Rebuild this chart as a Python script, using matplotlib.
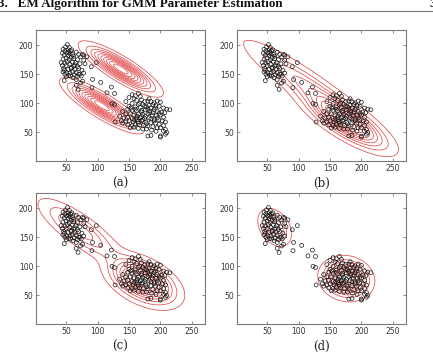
import numpy as np
import matplotlib
matplotlib.use("Agg")
import matplotlib.pyplot as plt
from matplotlib.lines import Line2D

# ---------------- data ----------------
# upper-left cluster
pts_x1 = [52, 49, 55, 45, 53, 48, 57, 51, 44, 56, 60, 47, 53, 66, 70, 76, 73, 58, 50, 62,
          45, 55, 68, 78, 52, 60, 42, 48, 65, 72, 56, 50, 62, 44, 68, 80, 58, 53, 47, 64,
          70, 75, 60, 51, 45, 56, 66, 72, 63, 57, 48, 54, 68, 74, 61, 66, 76, 73, 47, 66,
          69, 58, 70, 62, 54, 46, 78, 59, 64, 50]
pts_y1 = [201, 197, 196, 193, 192, 190, 190, 187, 186, 185, 184, 183, 182, 188, 184, 184, 180, 179, 178, 177,
          176, 175, 175, 174, 172, 171, 170, 169, 170, 168, 167, 165, 164, 165, 163, 168, 160, 158, 157, 158,
          160, 157, 155, 153, 154, 152, 153, 150, 149, 147, 150, 148, 146, 147, 144, 141, 138, 135, 139, 131,
          124, 162, 150, 181, 188, 160, 152, 192, 166, 146]
# points between the clusters
pts_xb = [90, 98, 92, 91, 105, 115, 122, 127, 123, 127, 83, 78, 128]
pts_yb = [163, 170, 141, 127, 136, 118, 128, 117, 100, 98, 180, 183, 68]
# lower-right cluster
pts_x2 = [155, 160, 165, 168, 158, 150, 145, 162, 170, 175, 180, 185, 190, 195, 200, 188, 182, 193, 172, 165,
          155, 150, 160, 168, 178, 185, 198, 205, 210, 215, 148, 155, 162, 170, 176, 183, 190, 195, 202, 207,
          140, 145, 152, 158, 165, 172, 180, 187, 193, 200, 205, 135, 142, 148, 155, 162, 168, 175, 182, 190,
          197, 203, 208, 138, 145, 150, 157, 165, 170, 177, 185, 192, 198, 205, 140, 148, 155, 160, 167, 173,
          180, 188, 195, 200, 208, 152, 158, 165, 172, 178, 186, 193, 205, 210, 185, 180, 200, 200, 208, 163,
          170, 176, 183, 188, 192, 180, 170, 160, 175, 185, 195, 165, 158, 178, 190, 172, 198, 153, 182, 163,
          167]
pts_y2 = [115, 113, 117, 112, 108, 110, 103, 105, 106, 103, 104, 103, 101, 104, 102, 98, 97, 96, 98, 98,
          100, 95, 94, 93, 94, 92, 95, 92, 90, 89, 90, 88, 87, 88, 89, 87, 89, 86, 85, 84,
          86, 82, 82, 80, 82, 81, 82, 80, 79, 80, 76, 78, 75, 76, 74, 75, 75, 74, 75, 73,
          72, 70, 68, 70, 68, 70, 68, 69, 70, 68, 67, 66, 64, 62, 66, 63, 62, 64, 63, 62,
          61, 60, 58, 58, 55, 58, 59, 57, 56, 56, 54, 52, 52, 50, 45, 44, 42, 44, 47, 72,
          77, 78, 84, 84, 92, 90, 85, 90, 95, 73, 75, 66, 72, 65, 70, 72, 83, 92, 108, 78,
          100]

# Gaussian mixture parameters per panel: weights, means, principal std devs, angle (deg)
gmm_a_w = [0.5, 0.5]
gmm_a_mu = [[137, 159], [107, 96]]
gmm_a_sd = [[34, 9], [34, 9]]
gmm_a_ang = [-34, -34]

gmm_b_w = [0.42, 0.58]
gmm_b_mu = [[118, 127], [175, 68]]
gmm_b_sd = [[68, 13], [41, 13]]
gmm_b_ang = [-37, -34]

gmm_c_w = [0.3, 0.7]
gmm_c_mu = [[72, 162], [172, 75]]
gmm_c_sd = [[42, 13], [31, 17]]
gmm_c_ang = [-38, -30]

gmm_d_w = [0.215, 0.785]
gmm_d_mu = [[62, 167], [176, 79]]
gmm_d_sd = [[18, 12], [19.5, 16.5]]
gmm_d_ang = [-60, -20]

panel_labels = ["(a)", "(b)", "(c)", "(d)"]
x_ticks = [50, 100, 150, 200, 250]
y_ticks = [50, 100, 150, 200]
header_text = "3.   EM Algorithm for GMM Parameter Estimation"
page_text = "3"

# ---------------- drawing ----------------
W, H = 433, 359
fig = plt.figure(figsize=(W / 100, H / 100), dpi=100)

px = np.array(pts_x1 + pts_xb + pts_x2, dtype=float)
py = np.array(pts_y1 + pts_yb + pts_y2, dtype=float)

gx = np.linspace(0, 275, 400)
gy = np.linspace(0, 230, 400)
GX, GY = np.meshgrid(gx, gy)


def mixture(w, mu, sd, ang):
    Z = np.zeros_like(GX)
    for wk, m, s, a in zip(w, mu, sd, ang):
        t = np.deg2rad(a)
        R = np.array([[np.cos(t), -np.sin(t)], [np.sin(t), np.cos(t)]])
        C = R @ np.diag([s[0] ** 2, s[1] ** 2]) @ R.T
        Ci = np.linalg.inv(C)
        dx = GX - m[0]
        dy = GY - m[1]
        q = Ci[0, 0] * dx * dx + 2 * Ci[0, 1] * dx * dy + Ci[1, 1] * dy * dy
        Z += wk * np.exp(-0.5 * q) / (2 * np.pi * np.sqrt(np.linalg.det(C)))
    return Z


panels = [
    (gmm_a_w, gmm_a_mu, gmm_a_sd, gmm_a_ang),
    (gmm_b_w, gmm_b_mu, gmm_b_sd, gmm_b_ang),
    (gmm_c_w, gmm_c_mu, gmm_c_sd, gmm_c_ang),
    (gmm_d_w, gmm_d_mu, gmm_d_sd, gmm_d_ang),
]

lefts = [36 / W, 237 / W, 36 / W, 237 / W]
tops = [30, 30, 193, 193]
aw = 169 / W
ah = 131 / H
spine_col = "#7a7a7a"

for i, (w, mu, sd, ang) in enumerate(panels):
    ax = fig.add_axes([lefts[i], 1 - (tops[i] + 131) / H, aw, ah])
    Z = mixture(w, mu, sd, ang)
    levels = np.linspace(0.06, 0.92, 10) * Z.max()
    ax.contour(GX, GY, Z, levels=levels, colors="#e34a4a", linewidths=0.55)
    ax.scatter(px, py, s=8, facecolors="none", edgecolors="#1a1a1a", linewidths=0.5, zorder=3)
    ax.set_xlim(2, 271)
    ax.set_ylim(1, 226)
    ax.set_xticks(x_ticks)
    ax.set_yticks(y_ticks)
    ax.tick_params(direction="in", length=2, width=0.6, color=spine_col,
                   labelsize=5.5, labelcolor="#333333", pad=2,
                   top=True, right=True)
    for s in ax.spines.values():
        s.set_color(spine_col)
        s.set_linewidth(0.8)
    cx = lefts[i] + aw / 2
    ly = 1 - (tops[i] + 131 + 22) / H
    fig.text(cx, ly, panel_labels[i], ha="center", va="center",
             fontsize=8.5, family="DejaVu Serif", color="#222222")

fig.text(-0.004, 1 - 7 / H, header_text, ha="left", va="baseline",
         fontsize=9.4, family="Liberation Serif", weight="bold", color="#111111")
fig.text(0.993, 1 - 7 / H, page_text, ha="left", va="baseline",
         fontsize=9.4, family="Liberation Serif", weight="bold", color="#111111")
fig.add_artist(Line2D([0, 1], [1 - 11 / H, 1 - 11 / H], transform=fig.transFigure,
                      color="#777777", linewidth=0.8))

fig.savefig("out.png", dpi=100)
